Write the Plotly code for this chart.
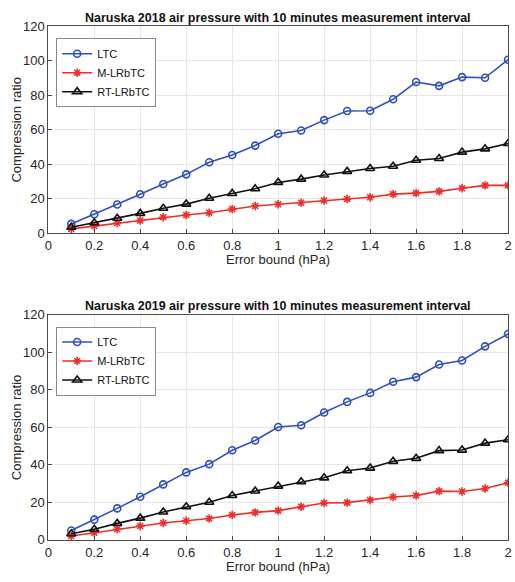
import plotly.graph_objects as go

error_bound = [0.1, 0.2, 0.3, 0.4, 0.5, 0.6, 0.7, 0.8, 0.9, 1.0,
               1.1, 1.2, 1.3, 1.4, 1.5, 1.6, 1.7, 1.8, 1.9, 2.0]

# Naruska 2018
ltc_2018 = [5.3, 10.9, 16.6, 22.5, 28.5, 34.1, 41.1, 45.3, 50.8, 57.7,
            59.6, 65.6, 70.9, 71.0, 77.7, 87.7, 85.5, 90.6, 90.2, 100.7]
mlrbtc_2018 = [2.4, 4.1, 5.8, 7.3, 9.2, 10.5, 11.8, 13.9, 15.7, 16.7,
               17.6, 18.9, 19.8, 20.8, 22.6, 23.2, 24.2, 26.0, 27.7, 27.7]
rtlrbtc_2018 = [3.4, 6.0, 8.6, 11.4, 14.4, 16.8, 20.2, 23.0, 25.7, 29.4,
                31.3, 33.7, 35.8, 37.5, 38.8, 42.3, 43.3, 47.0, 48.9, 52.0]

# Naruska 2019
ltc_2019 = [5.0, 10.8, 16.8, 23.0, 29.6, 36.0, 40.4, 47.8, 53.0, 60.2,
            61.1, 67.9, 73.6, 78.4, 84.3, 86.8, 93.5, 95.7, 103.2, 109.8]
mlrbtc_2019 = [2.1, 3.8, 5.7, 7.4, 9.0, 10.2, 11.4, 13.3, 14.7, 15.6,
               17.7, 19.7, 19.9, 21.3, 22.9, 23.7, 26.0, 25.8, 27.4, 30.5]
rtlrbtc_2019 = [3.3, 5.7, 8.8, 11.6, 14.9, 17.7, 20.1, 23.7, 26.1, 28.7,
                31.0, 33.1, 36.9, 38.3, 41.9, 43.5, 47.6, 47.9, 51.6, 53.4]

titles = ["Naruska 2018 air pressure with 10 minutes measurement interval",
          "Naruska 2019 air pressure with 10 minutes measurement interval"]
series_names = ["LTC", "M-LRbTC", "RT-LRbTC"]
x_ticks = [0, 0.2, 0.4, 0.6, 0.8, 1, 1.2, 1.4, 1.6, 1.8, 2]
x_tick_text = ["0", "0.2", "0.4", "0.6", "0.8", "1", "1.2", "1.4", "1.6", "1.8", "2"]
y_ticks = [0, 20, 40, 60, 80, 100, 120]

W, H = 515, 582
FONT = "Liberation Sans, Arial, sans-serif"
BLUE = "#2f4fbd"
RED = "#ec2f2b"
BLACK = "#111111"
AXIS = "#4a4a4a"
GRID = "#e6e6e6"

styles = [
    dict(color=BLUE, symbol="circle-open", size=7),
    dict(color=RED, symbol="asterisk-open", size=7),
    dict(color=BLACK, symbol="triangle-up-open", size=8),
]

# pixel boxes of the two plot areas (left, right, top, bottom)
panels = [(45, 512, 20, 232), (45, 512, 316, 547)]

fig = go.Figure()
datasets = [
    [ltc_2018, mlrbtc_2018, rtlrbtc_2018],
    [ltc_2019, mlrbtc_2019, rtlrbtc_2019],
]

annotations = []
for i, (data, (l, r, t, b)) in enumerate(zip(datasets, panels)):
    xa = "x" if i == 0 else "x2"
    ya = "y" if i == 0 else "y2"
    lg = "legend" if i == 0 else "legend2"
    for name, vals, st in zip(series_names, data, styles):
        fig.add_trace(go.Scatter(
            x=error_bound, y=vals, name=name, mode="lines+markers",
            xaxis=xa, yaxis=ya, legend=lg,
            line=dict(color=st["color"], width=1.6),
            marker=dict(symbol=st["symbol"], size=st["size"], color=st["color"],
                        line=dict(color=st["color"], width=1.6)),
        ))
    dom_x = [l / W, r / W]
    dom_y = [(H - b) / H, (H - t) / H]
    axis_common = dict(showline=True, linecolor=AXIS, linewidth=1, mirror=True,
                       showgrid=True, gridcolor=GRID, gridwidth=1, zeroline=False,
                       ticks="inside", ticklen=4, tickcolor=AXIS,
                       ticklabeloverflow="allow",
                       tickfont=dict(family=FONT, size=13, color="#262626"))
    fig.update_layout(**{
        ("xaxis" if i == 0 else "xaxis2"): dict(
            domain=dom_x, range=[0, 2], tickvals=x_ticks, ticktext=x_tick_text,
            anchor=ya, **axis_common),
        ("yaxis" if i == 0 else "yaxis2"): dict(
            domain=dom_y, range=[0, 120], tickvals=y_ticks,
            anchor=xa, **axis_common),
        lg: dict(x=(l + 8) / W, y=(H - t - 12) / H, xanchor="left", yanchor="top",
                 bgcolor="white", bordercolor="#8a8a8a", borderwidth=1,
                 font=dict(family=FONT, size=11, color="#111111"),
                 tracegroupgap=0, itemwidth=30),
    })
    annotations.append(dict(text="<b>" + titles[i] + "</b>", x=(l + r) / 2 / W,
                            y=(H - t + 9) / H, xref="paper", yref="paper",
                            xanchor="center", yanchor="middle", showarrow=False,
                            font=dict(family=FONT, size=12.5, color="#111111")))
    annotations.append(dict(text="Error bound (hPa)", x=(l + r) / 2 / W,
                            y=(H - b - 27) / H, xref="paper", yref="paper",
                            xanchor="center", yanchor="middle", showarrow=False,
                            font=dict(family=FONT, size=13, color="#262626")))
    annotations.append(dict(text="Compression ratio", x=13 / W,
                            y=(H - (t + b) / 2) / H, xref="paper", yref="paper",
                            xanchor="center", yanchor="middle", textangle=-90,
                            showarrow=False,
                            font=dict(family=FONT, size=13, color="#262626")))

fig.update_layout(
    width=W, height=H, margin=dict(l=0, r=0, t=0, b=0),
    paper_bgcolor="white", plot_bgcolor="white",
    annotations=annotations, showlegend=True,
)

fig.write_html("out.html")
